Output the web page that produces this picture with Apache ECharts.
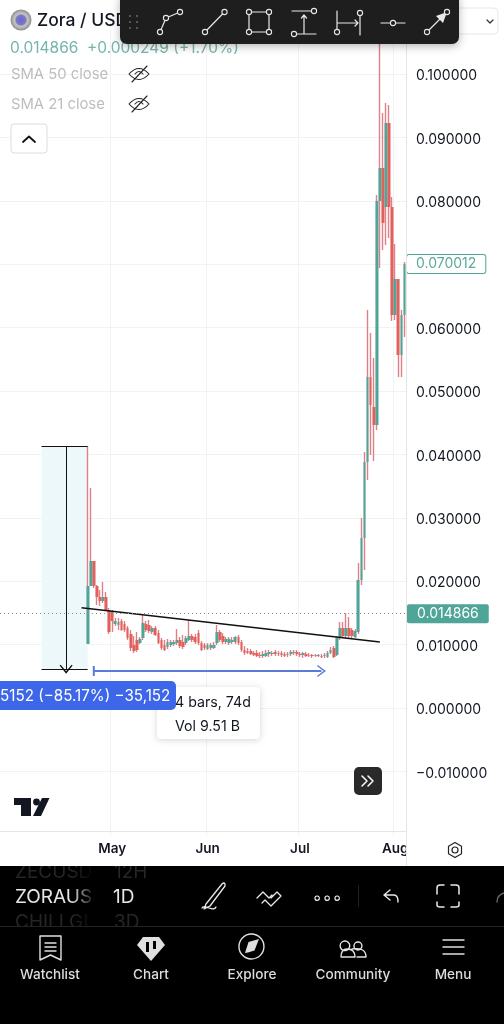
<!DOCTYPE html>
<html lang="en">
<head>
<meta charset="utf-8">
<title>Zora / USDT</title>
<script src="https://cdn.jsdelivr.net/npm/echarts@6/dist/echarts.min.js"></script>
<style>
  html, body { margin: 0; padding: 0; background: #fff; }
  #main { width: 504px; height: 1024px; }
</style>
</head>
<body>
<div id="main"></div>
<script>
// 1D bars, first one is 23 Apr. [open, close, low, high]
var candles = [
  [.01009,.01924,.01009,.04132],[.01924,.02319,.01924,.03470],[.02319,.01924,.01893,.02319],[.01924,.01751,.01625,.01940],
  [.01751,.01688,.01609,.01861],[.01688,.01751,.01656,.01987],[.01751,.01546,.01530,.01830],[.01546,.01199,.01167,.01577],
  [.01514,.01372,.01199,.01546],[.01325,.01372,.01293,.01420],[.01309,.01356,.01230,.01420],[.01372,.01230,.01215,.01404],
  [.01325,.01230,.01199,.01372],[.01262,.01104,.01073,.01293],[.01167,.00946,.00899,.01230],[.00994,.00899,.00868,.01136],
  [.01073,.00915,.00883,.01199],[.01025,.01088,.01009,.01120],[.01104,.01341,.01073,.01483],[.01325,.01230,.01199,.01372],
  [.01309,.01215,.01183,.01388],[.01199,.01262,.01167,.01293],[.01262,.01151,.01136,.01293],[.01183,.01025,.01009,.01230],
  [.01073,.00946,.00915,.01104],[.00994,.00915,.00899,.01073],[.00962,.01041,.00931,.01088],[.00994,.01041,.00962,.01073],
  [.01009,.01041,.00978,.01073],[.01025,.01073,.00994,.01246],[.01073,.00978,.00946,.01120],[.01041,.00962,.00931,.01151],
  [.01025,.01104,.00994,.01136],[.01073,.01136,.01057,.01388],[.01136,.01073,.01041,.01167],[.01120,.01041,.01009,.01167],
  [.01183,.01025,.00994,.01230],[.01025,.00915,.00899,.01057],[.00994,.00946,.00915,.01025],[.00931,.00994,.00915,.01025],
  [.00946,.00994,.00915,.01025],[.00946,.00994,.00931,.01041],[.01025,.01199,.00994,.01309],[.01199,.01073,.01041,.01230],
  [.01136,.01041,.01009,.01183],[.01041,.01088,.01009,.01120],[.01025,.01088,.00994,.01120],[.01041,.01073,.01009,.01120],
  [.01041,.01120,.01009,.01136],[.01120,.01025,.00994,.01151],[.01041,.00915,.00883,.01073],[.00915,.00868,.00836,.00978],
  [.00899,.00868,.00852,.00946],[.00899,.00852,.00836,.00931],[.00868,.00836,.00820,.00899],[.00868,.00820,.00804,.00915],
  [.00836,.00820,.00789,.00883],[.00820,.00852,.00789,.00899],[.00820,.00868,.00804,.00915],[.00852,.00883,.00804,.00915],
  [.00852,.00868,.00820,.00899],[.00883,.00852,.00820,.00915],[.00852,.00868,.00820,.00899],[.00868,.00836,.00804,.00899],
  [.00852,.00820,.00804,.00883],[.00836,.00852,.00804,.00883],[.00852,.00883,.00820,.00915],[.00868,.00883,.00836,.00915],
  [.00883,.00852,.00820,.00915],[.00852,.00836,.00804,.00883],[.00836,.00868,.00789,.00883],[.00852,.00820,.00804,.00883],
  [.00836,.00828,.00804,.00868],[.00836,.00820,.00789,.00852],[.00828,.00820,.00804,.00852],[.00820,.00836,.00804,.00852],
  [.00820,.00804,.00789,.00852],[.00820,.00836,.00789,.00868],[.00804,.00868,.00789,.00899],[.00868,.00915,.00852,.00962],
  [.00946,.00804,.00789,.00978],[.00836,.01104,.00820,.01136],[.01104,.01262,.01073,.01356],[.01262,.01136,.01120,.01356],
  [.01136,.01262,.01104,.01498],[.01262,.01136,.01104,.01435],[.01230,.01136,.01104,.01262],[.01120,.01215,.01104,.01246],
  [.01199,.02019,.01167,.02287],[.02019,.02681,.01940,.02997],[.02681,.03880,.02177,.04038],[.03880,.05221,.03596,.06278],
  [.05221,.04779,.03991,.05915],[.04748,.04464,.03896,.05521],[.04464,.07997,.04385,.08091],[.07997,.08517,.06940,.10800],
  [.08517,.07650,.07224,.09385],[.07902,.09227,.07303,.09543],[.09227,.07902,.07413,.09511],[.07902,.06199,.06104,.08060],
  [.06199,.06767,.06120,.07319],[.06767,.05568,.05221,.06767],[.05568,.06199,.05221,.06278],[.06199,.070012,.05852,.07035]
];
var leadBars = 28;            // empty days before the first bar
var totalBars = 132;
var firstDay = new Date(Date.UTC(2025, 2, 26));
var monthLabels = {'05-01': 'May', '06-01': 'Jun', '07-01': 'Jul', '08-01': 'Aug'};
var priceTicks = {min: -0.02, max: 0.11, interval: 0.01};
var hiddenTicks = [-2, 7, 11];   // hundredths: off the pane, or under the price tag
var lastPrice = 0.070012;
var markedPrice = 0.014866;
var measureTop = 0.04127, measureBottom = 0.00612;
var trendLine = [[26, 0.0158], [123, 0.0104]];
var rangeLine = [[30, 0.00584], [104, 0.00584]];

var days = [];
for (var d = 0; d < totalBars; d++) {
  days.push(new Date(firstDay.getTime() + d * 864e5).toISOString().slice(5, 10));
}
var isMonthStart = function (i, v) { return !!monthLabels[v]; };

var TEAL = '#4fa597', RED = '#e2605a', WICK = '#df7f86', BLUE = '#5b7bd6';
var FONT = 'Inter, Roboto, sans-serif';
var vee = 'path://M0 11 L10 0 L20 11 L18.4 12 L10 3.2 L1.6 12 Z';

var fullRows = candles.map(function (c, i) { return [leadBars + i, c[0], c[1], c[2], c[3]]; });
var bodyRows = candles.map(function (c, i) {
  return [leadBars + i, c[0], c[1], Math.min(c[0], c[1]), Math.max(c[0], c[1])];
});

// drawing helpers for the app chrome around the chart
var iconCount = 0;
function iconType(d) {
  var name = 'icon' + (iconCount++);
  echarts.graphic.registerShape(name, echarts.graphic.extendPath(d, {}));
  return name;
}
function txt(x, y, s, fill, font, align, z) {
  return {type: 'text', z: z || 60, silent: true, style: {x: x, y: y + 1, text: s, fill: fill, font: font, textAlign: align || 'left', textVerticalAlign: 'middle'}};
}
function stroke(d, color, w, z) {
  return {type: iconType(d), z: z || 110, silent: true, style: {fill: 'none', stroke: color, lineWidth: w || 1.2, lineCap: 'round', lineJoin: 'round'}};
}
function solid(d, color, z) {
  return {type: iconType(d), z: z || 110, silent: true, style: {fill: color}};
}
function box(x, y, w, h, fill, r, z, extra) {
  return {type: 'rect', z: z || 60, silent: true, shape: {x: x, y: y, width: w, height: h, r: r || 0}, style: Object.assign({fill: fill}, extra || {})};
}
function knob(x, y, r) {
  return {type: 'circle', z: 111, silent: true, shape: {cx: x, cy: y, r: r || 2.6}, style: {fill: '#1e1e1e', stroke: '#e8e8e8', lineWidth: 1.1}};
}
var eye = function (y) {
  return stroke('M129 ' + y + 'Q139 ' + (y - 11) + ' 149 ' + y + 'Q139 ' + (y + 11) + ' 129 ' + y + 'ZM132 ' + (y + 8) + 'L147 ' + (y - 8) + 'M135 ' + y + 'Q139 ' + (y - 5) + ' 143 ' + y, '#222', 1.1, 62);
};

var chrome = [
  // header
  {type: 'circle', z: 60, silent: true, shape: {cx: 21, cy: 20, r: 10.5}, style: {fill: new echarts.graphic.RadialGradient(0.5, 0.5, 0.5, [{offset: 0, color: '#6a63d8'}, {offset: 0.45, color: '#7d7ac0'}, {offset: 0.62, color: '#c6c6c6'}, {offset: 1, color: '#8d8d8d'}])}},
  txt(37, 20, 'Zora / USDT', '#131722', '500 17.5px ' + FONT),
  txt(10, 47, '0.014866', '#74b6ab', '15.5px ' + FONT),
  txt(87, 47, '+0.000249 (+1.70%)', '#74b6ab', '15.5px ' + FONT),
  txt(11, 74, 'SMA 50 close', '#bdbdbd', '14.8px ' + FONT),
  txt(11, 104, 'SMA 21 close', '#bdbdbd', '14.8px ' + FONT),
  eye(74), eye(104),
  box(11, 124, 36, 29, '#fff', 3, 60, {stroke: '#dcdcdc', lineWidth: 1}),
  stroke('M23 142L29 136.500L35 142', '#111', 1.8, 62),
  box(445, 8, 53, 26, '#fff', 4, 60, {stroke: '#e8e8e8', lineWidth: 1}),
  stroke('M487 20L490 23L493 20', '#333', 1.2, 62),

  // drawing toolbar
  {type: 'rect', z: 100, silent: true, shape: {x: 120, y: -6, width: 339, height: 50, r: 7}, style: {fill: '#1e1e1e', shadowBlur: 8, shadowColor: 'rgba(0,0,0,.3)', shadowOffsetY: 2}},
  solid('M129 15h2v2h-2zM136 15h2v2h-2zM129 21h2v2h-2zM136 21h2v2h-2zM129 27h2v2h-2zM136 27h2v2h-2z', '#555'),
  stroke('M160 32L166 18L180 12', '#e8e8e8'), knob(160, 32), knob(166, 18), knob(180, 12),
  stroke('M205 32L224.500 12', '#e8e8e8'), knob(205, 32), knob(224.5, 12),
  stroke('M249 12H269V32H249Z', '#e8e8e8'), knob(249, 12), knob(269, 12), knob(249, 32), knob(269, 32),
  stroke('M292 11H314M294 34H316M304 33V15M301.500 18L304 15L306.500 18', '#e8e8e8'), knob(314, 11), knob(294, 34),
  stroke('M337 11V32M337 23H358M355 20L358 23L355 26M360 11V35', '#e8e8e8'), knob(337, 32), knob(360, 13),
  stroke('M381 23H405', '#e8e8e8'), knob(393, 23),
  stroke('M427 32L447 12', '#e8e8e8'), solid('M447 12L436 16L443 23Z', '#e8e8e8', 111), knob(427, 32), knob(447, 12),

  // pane frame and time strip
  box(0, 831, 406, 1, '#e6e6e8', 0, 20),
  box(406, 832, 98, 34, '#fff', 0, 20),
  box(406, 0, 1, 866, '#e4e4e6', 0, 21),
  stroke('M455 842.500L461.500 846.200V853.800L455 857.500L448.500 853.800V846.200ZM458 850A3 3 0 1 1 452 850A3 3 0 1 1 458 850Z', '#222', 1.2, 62),

  // TradingView mark
  solid('M14 798H31V816H21V805H14ZM42 798H49.500L41 816H33Z', '#131722', 60),
  {type: 'circle', z: 60, silent: true, shape: {cx: 36.5, cy: 802, r: 3.4}, style: {fill: '#131722'}},

  // scroll-to-latest button
  box(354, 767, 28, 28, '#2a2a2a', 5, 60),
  stroke('M362 776L367 781L362 786M368 776L373 781L368 786', '#fff', 1.5, 62),

  // measure readouts
  box(157, 687, 103, 52, '#fff', 4, 60, {shadowBlur: 6, shadowColor: 'rgba(0,0,0,.16)', shadowOffsetY: 1}),
  txt(175, 702, '4 bars, 74d', '#131722', '14.2px ' + FONT, 'left', 61),
  txt(175, 726, 'Vol 9.51 B', '#131722', '14.2px ' + FONT, 'left', 61),
  box(-8, 681, 184, 29, '#3d66e8', 5, 62),
  txt(0, 695.5, '5152 (\u221285.17%) \u221235,152', '#fff', '15.2px ' + FONT, 'left', 63),

  // bottom black area
  box(0, 866, 504, 158, '#000', 0, 90),
  txt(15, 871, 'ZECUSD', '#262626', '19px ' + FONT, 'left', 91),
  txt(114, 871, '12H', '#262626', '19px ' + FONT, 'left', 91),
  txt(15, 896, 'ZORAUSD', '#e6e6e6', '19px ' + FONT, 'left', 91),
  txt(113, 896, '1D', '#e6e6e6', '19px ' + FONT, 'left', 91),
  txt(15, 921, 'CHILLGUY', '#262626', '19px ' + FONT, 'left', 91),
  txt(114, 921, '3D', '#262626', '19px ' + FONT, 'left', 91),
  box(72, 866, 38, 60, new echarts.graphic.LinearGradient(0, 0, 1, 0, [{offset: 0, color: 'rgba(0,0,0,0)'}, {offset: 0.6, color: '#000'}, {offset: 1, color: '#000'}]), 0, 92),
  box(0, 860, 150, 6, '#fff', 0, 92),
  box(0, 926, 504, 98, '#000', 0, 92),
  box(0, 926, 504, 1, '#222', 0, 92),

  // bar icons
  stroke('M206 904L222 884Q224 882 225 884L225 886L210 906M206 904L204 909L210 906M202 908Q203 906 209 908Q215 910 216 907', '#e8e8e8', 1.3, 93),
  stroke('M257 898L263 892L269 898L272 895M262 903L265 900L271 906L281 896L277 892L271 898', '#e8e8e8', 1.3, 93),
  stroke('M317.200 896A2.200 2.200 0 1 1 317.100 896M327.200 896A2.200 2.200 0 1 1 327.100 896M337.200 896A2.200 2.200 0 1 1 337.100 896', '#e8e8e8', 1.2, 93),
  box(358, 885, 1, 22, '#222', 0, 93),
  stroke('M384 895L390 890M384 895L390 900M384 895H394Q398 895 398 902', '#e8e8e8', 1.4, 93),
  stroke('M437 894V888Q437 885 440 885H444M451 885H456Q459 885 459 888V894M437 902V905Q437 907 440 907H444M459 902V905Q459 907 456 907H451', '#e8e8e8', 1.5, 93),
  stroke('M497 902Q497 895 504 893', '#666', 1.4, 93),

  // nav bar
  stroke('M40 936H61V960L50.500 955L40 960ZM45 943H56M45 947H56M45 951H56', '#e0e0e0', 1.4, 93),
  solid('M143 937H159L165 945L151 961L137 945ZM146 942V952H149V942ZM153 941V949H156V941Z', '#e0e0e0', 93),
  stroke('M251.500 934A12.500 12.500 0 1 1 251.400 934', '#e0e0e0', 1.4, 93),
  solid('M259 939L254.500 950.500L248 952.500L245 953L248.500 942Z', '#e0e0e0', 93),
  stroke('M345 941A4.800 4.800 0 1 1 344.900 941M358 942A4 4 0 1 1 357.900 942M341 957Q341 949 347 949Q355 949 355 957ZM352 949Q366 947 366 957H357', '#e0e0e0', 1.4, 93),
  stroke('M443 940H464M443 947H464M443 954H464', '#e0e0e0', 1.4, 93),
  txt(50, 974, 'Watchlist', '#dcdcdc', '500 13.6px ' + FONT, 'center', 93),
  txt(151, 974, 'Chart', '#dcdcdc', '500 13.6px ' + FONT, 'center', 93),
  txt(252, 974, 'Explore', '#dcdcdc', '500 13.6px ' + FONT, 'center', 93),
  txt(353, 974, 'Community', '#dcdcdc', '500 13.6px ' + FONT, 'center', 93),
  txt(453, 974, 'Menu', '#dcdcdc', '500 13.6px ' + FONT, 'center', 93)
];

var myChart = echarts.init(document.getElementById('main'), null, {renderer: 'canvas'});
myChart.setOption({
  animation: false,
  backgroundColor: '#fff',
  grid: {left: 0, right: 98, top: 10.6, bottom: 189.2},
  xAxis: {
    type: 'category',
    data: days,
    boundaryGap: true,
    axisLine: {show: false},
    axisTick: {show: false},
    axisLabel: {
      interval: isMonthStart,
      formatter: function (v) { return monthLabels[v] || ''; },
      color: '#131722', fontFamily: FONT, fontSize: 13.5, fontWeight: 600, margin: 7, hideOverlap: false
    },
    splitLine: {show: true, interval: isMonthStart, lineStyle: {color: '#f1f2f5', width: 1}}
  },
  yAxis: {
    type: 'value',
    position: 'right',
    min: priceTicks.min,
    max: priceTicks.max,
    interval: priceTicks.interval,
    axisLine: {show: false},
    axisTick: {show: false},
    splitLine: {show: true, showMinLine: false, showMaxLine: false, lineStyle: {color: '#f1f2f5', width: 1}},
    axisLabel: {
      color: '#131722', fontFamily: FONT, fontSize: 14, margin: 10, align: 'left', verticalAlign: 'top', lineHeight: 4,
      formatter: function (v) {
        if (hiddenTicks.indexOf(Math.round(v * 100)) >= 0) return '';
        return (v < 0 ? '\u2212' : '') + Math.abs(v).toFixed(6);
      }
    }
  },
  series: [
    {
      // wicks, all one pink as in the picture
      name: 'wicks',
      type: 'candlestick',
      barWidth: 1,
      silent: true,
      itemStyle: {color: WICK, color0: WICK, borderColor: WICK, borderColor0: WICK, borderWidth: 1.4},
      data: fullRows,
      encode: {x: 0, y: [1, 2, 3, 4]},
      markArea: {
        silent: true,
        itemStyle: {color: '#ecf8fa'},
        data: [[{coord: [13, measureTop]}, {coord: [28, measureBottom]}]]
      }
    },
    {
      name: 'ZORAUSD',
      type: 'candlestick',
      barWidth: 3.2,
      silent: true,
      itemStyle: {color: TEAL, color0: RED, borderColor: TEAL, borderColor0: RED, borderWidth: 0},
      data: bodyRows,
      encode: {x: 0, y: [1, 2, 3, 4]},
      markLine: {
        silent: true,
        animation: false,
        symbol: 'none',
        precision: 6,
        label: {show: false},
        data: [
          // measure tool
          [{coord: [13, measureTop], lineStyle: {color: '#111', width: 1, type: 'solid'}}, {coord: [28, measureTop]}],
          [{coord: [13, measureBottom], lineStyle: {color: '#111', width: 1, type: 'solid'}}, {coord: [28, measureBottom]}],
          [{coord: [21, measureTop], lineStyle: {color: '#111', width: 1, type: 'solid'}},
           {coord: [21, measureBottom], symbol: vee, symbolSize: [13, 9]}],
          // trend line
          [{coord: trendLine[0], lineStyle: {color: '#111', width: 1.6, type: 'solid'}}, {coord: trendLine[1]}],
          // date range
          [{coord: rangeLine[0], symbol: 'rect', symbolSize: [10, 2], lineStyle: {color: BLUE, width: 2, type: 'solid'}},
           {coord: rangeLine[1], symbol: vee, symbolSize: [12, 9]}],
          // price lines with their tags on the scale
          {yAxis: markedPrice, lineStyle: {color: '#8a8f98', width: 1, type: [1, 3]},
           label: {show: true, position: 'end', distance: 1, formatter: markedPrice.toFixed(6), color: '#fff', backgroundColor: TEAL, borderRadius: 2, padding: [3, 10, 2, 10], fontFamily: FONT, fontSize: 14}},
          {yAxis: lastPrice, lineStyle: {color: 'rgba(0,0,0,0)', width: 0},
           label: {show: true, position: 'end', distance: 1, formatter: lastPrice.toFixed(6), color: '#5aa99c', backgroundColor: '#fff', borderColor: TEAL, borderWidth: 1, borderRadius: 2, padding: [2, 9, 2, 9], fontFamily: FONT, fontSize: 14}}
        ]
      }
    }
  ],
  graphic: {elements: chrome}
});
</script>
</body>
</html>
